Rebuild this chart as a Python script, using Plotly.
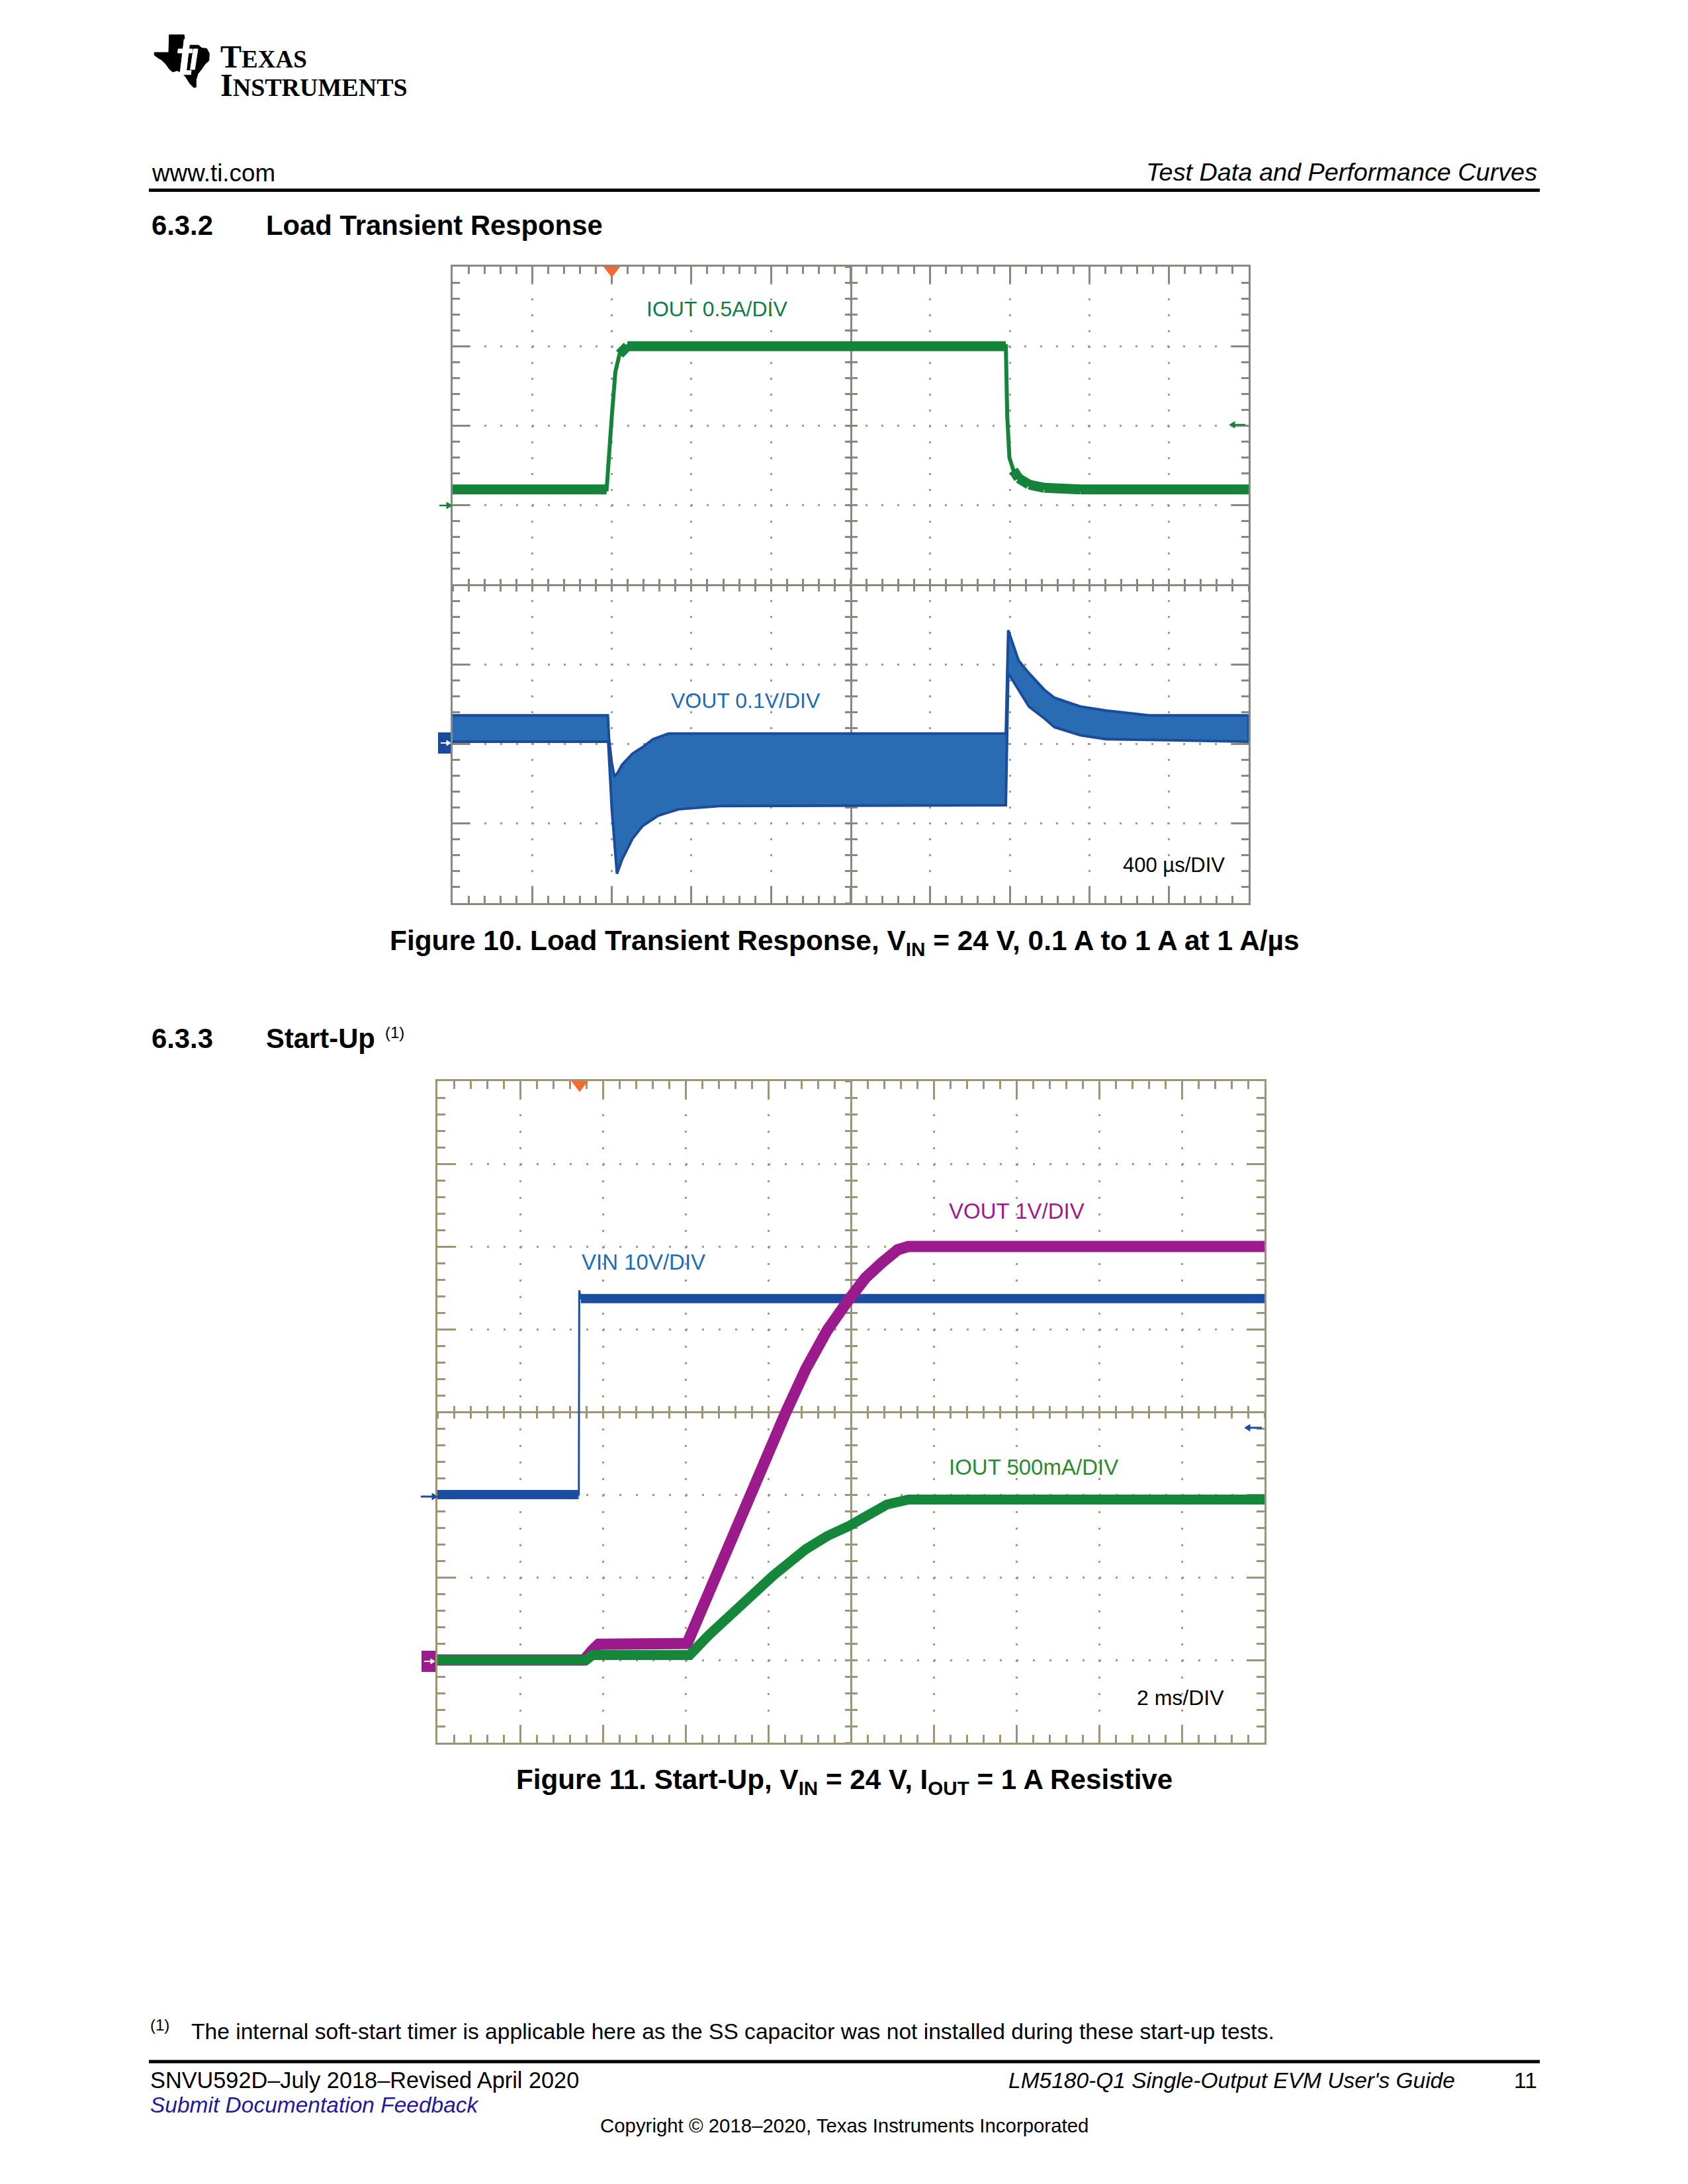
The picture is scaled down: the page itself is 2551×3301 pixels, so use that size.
import plotly.graph_objects as go

W, H = 2551, 3301

# ---------------- Figure 10: load transient (time in microseconds) ----------------
lt_iout_t_us = [0, 774, 800, 818, 839, 878, 2780, 2787, 2798, 2818, 2844, 2896, 2974, 3155, 4000]
lt_iout_a = [0.10, 0.10, 0.56, 0.84, 0.95, 1.00, 1.00, 0.56, 0.30, 0.22, 0.17, 0.13, 0.11, 0.10, 0.10]

lt_vout_up_t_us = [0, 780, 786, 800, 813, 830, 852, 880, 904, 955, 1007, 1085, 2780, 2792, 2818, 2844,
                   2896, 2974, 3025, 3155, 3284, 3500, 4000]
lt_vout_up_mv = [30, 30, 0, -30, -47, -42, -32, -24, -18, -10, 0, 7, 7, 137, 119, 99,
                 83, 62, 52, 41, 36, 30, 30]
lt_vout_lo_t_us = [0, 782, 800, 826, 852, 904, 955, 1033, 1136, 1343, 2780, 2792, 2844, 2896,
                   2974, 3025, 3155, 3284, 4000]
lt_vout_lo_mv = [-3, -3, -88, -169, -151, -125, -109, -96, -88, -84, -83, 83, 62, 41,
                 26, 15, 5, 0, -3]
lt_trigger_us = [800]

# ---------------- Figure 11: start-up (time in milliseconds) ----------------
su_vin_t_ms = [0.0, 3.40, 3.42, 3.43, 3.47, 20.0]
su_vin_v = [0.3, 0.3, 0.3, 25.0, 24.0, 24.0]
su_vout_t_ms = [0.0, 3.55, 3.75, 3.90, 6.04, 6.30, 6.82, 7.34, 7.86, 8.43, 8.91, 9.43, 9.95,
                10.35, 10.74, 11.13, 11.39, 20.0]
su_vout_v = [0.0, 0.0, 0.12, 0.19, 0.20, 0.51, 1.13, 1.75, 2.38, 3.00, 3.52, 3.99, 4.36,
             4.62, 4.80, 4.96, 5.00, 5.00]
su_iout_t_ms = [0.0, 3.60, 3.75, 6.10, 6.56, 7.34, 8.12, 8.91, 9.43, 9.95, 10.35, 10.87, 11.39, 20.0]
su_iout_a = [0.0, 0.0, 0.03, 0.03, 0.15, 0.33, 0.51, 0.67, 0.75, 0.81, 0.86, 0.94, 0.97, 0.97]
su_trigger_ms = [3.44]

# ---------------- scope settings (units per division, offsets in divisions) ----------------
LT_T_DIV = 400
LT_IOUT_DIV, LT_IOUT_OFF = 0.5, 1.0
LT_VOUT_DIV, LT_VOUT_OFF = 100, -1.94
SU_T_DIV = 2
SU_VIN_DIV, SU_VIN_OFF = 10, -1.03
SU_VOUT_DIV, SU_VOUT_OFF = 1, -3.0
SU_IOUT_DIV, SU_IOUT_OFF = 0.5, -3.0

# ---------------- page geometry (pixels) ----------------
TOP_BOX = (684, 403, 1887, 1365)
BOT_BOX = (661, 1634, 1911, 2634)

TOP_LINE, TOP_DOT = '#88887e', '#9c9c96'
BOT_LINE, BOT_DOT = '#9d9473', '#a29a78'
FONT = 'Liberation Sans'


def X(px):
    return px / W


def Y(py):
    return 1 - py / H


def ch_range(per_div, off):
    return [(-4 - off) * per_div, (4 - off) * per_div]


def flat_only(t, v, thr):
    xs, ys = [], []
    for i in range(len(t) - 1):
        dt = t[i + 1] - t[i]
        if dt > 0 and abs((v[i + 1] - v[i]) / dt) <= thr:
            xs += [t[i], t[i + 1], None]
            ys += [v[i], v[i + 1], None]
    return xs, ys


def tick_kw(rng, dtick, color, majlen, minlen):
    return dict(range=rng, tick0=rng[0], dtick=dtick, ticks='inside', ticklen=majlen,
                tickwidth=3, tickcolor=color,
                minor=dict(tick0=rng[0], dtick=dtick / 5, ticks='inside', ticklen=minlen,
                           tickwidth=3, tickcolor=color, showgrid=False),
                zeroline=False, showticklabels=False, fixedrange=True, layer='below traces')


def grid_axis(domain, rng, dtick, color, dot, dash, majlen, minlen, anchor):
    d = tick_kw(rng, dtick, color, majlen, minlen)
    d.update(domain=domain, anchor=anchor, showline=True, linewidth=3, linecolor=color,
             mirror=True, showgrid=True, gridcolor=dot, gridwidth=3, griddash=dash)
    return d


def side_axis(overlay, anchor, side, rng, dtick, color, majlen, minlen):
    d = tick_kw(rng, dtick, color, majlen, minlen)
    d.update(overlaying=overlay, anchor=anchor, side=side, showline=False, showgrid=False)
    return d


def center_axis(overlay, rng, dtick, position, ticks, color, side):
    return dict(overlaying=overlay, anchor='free', position=position, range=rng, tick0=rng[0],
                dtick=dtick, ticks=ticks, ticklen=8, tickwidth=3, tickcolor=color,
                showline=True, linewidth=3, linecolor=color, showgrid=False, zeroline=False,
                showticklabels=False, fixedrange=True, side=side, layer='below traces')


def chan_axis(overlay, anchor, rng):
    return dict(overlaying=overlay, anchor=anchor, range=rng, visible=False, fixedrange=True)


fig = go.Figure()

# ----- axis placeholders so every decoration axis belongs to a subplot -----
for xa, ya in [('x2', 'y'), ('x3', 'y'), ('x4', 'y'), ('x', 'y2'), ('x', 'y3'), ('x', 'y4'),
               ('x6', 'y7'), ('x7', 'y7'), ('x8', 'y7'), ('x5', 'y8'), ('x5', 'y9'), ('x5', 'y10')]:
    fig.add_trace(go.Scatter(x=[], y=[], xaxis=xa, yaxis=ya, showlegend=False, hoverinfo='skip'))

# ----- Figure 10 traces -----
band_t = lt_vout_up_t_us + lt_vout_lo_t_us[::-1]
band_v = lt_vout_up_mv + lt_vout_lo_mv[::-1]
fig.add_trace(go.Scatter(x=band_t, y=band_v, xaxis='x', yaxis='y6', mode='lines', fill='toself',
                         fillcolor='#2a6cb4', line=dict(color='#1b4c9c', width=4),
                         showlegend=False, hoverinfo='skip'))
fig.add_trace(go.Scatter(x=lt_iout_t_us, y=lt_iout_a, xaxis='x', yaxis='y5', mode='lines',
                         line=dict(color='#15843b', width=6), showlegend=False, hoverinfo='skip'))
fx, fy = flat_only(lt_iout_t_us, lt_iout_a, 0.002)
fig.add_trace(go.Scatter(x=fx, y=fy, xaxis='x', yaxis='y5', mode='lines',
                         line=dict(color='#15843b', width=15), showlegend=False, hoverinfo='skip'))
fig.add_trace(go.Scatter(x=lt_trigger_us, y=[3.955] * len(lt_trigger_us), xaxis='x', yaxis='y',
                         mode='markers', marker=dict(symbol='triangle-down', size=22, color='#f26c2f'),
                         cliponaxis=False, showlegend=False, hoverinfo='skip'))

# ----- Figure 11 traces -----
fig.add_trace(go.Scatter(x=su_vin_t_ms, y=su_vin_v, xaxis='x5', yaxis='y11', mode='lines',
                         line=dict(color='#1b4ea2', width=3), showlegend=False, hoverinfo='skip'))
vx, vy = flat_only(su_vin_t_ms, su_vin_v, 1.0)
fig.add_trace(go.Scatter(x=vx, y=vy, xaxis='x5', yaxis='y11', mode='lines',
                         line=dict(color='#1b4ea2', width=14), showlegend=False, hoverinfo='skip'))
fig.add_trace(go.Scatter(x=su_iout_t_ms, y=su_iout_a, xaxis='x5', yaxis='y13', mode='lines',
                         line=dict(color='#14873a', width=15), showlegend=False, hoverinfo='skip'))
fig.add_trace(go.Scatter(x=su_vout_t_ms, y=su_vout_v, xaxis='x5', yaxis='y12', mode='lines',
                         line=dict(color='#9b1a8c', width=17), showlegend=False, hoverinfo='skip'))
fig.add_trace(go.Scatter(x=su_trigger_ms, y=[3.956] * len(su_trigger_ms), xaxis='x5', yaxis='y7',
                         mode='markers', marker=dict(symbol='triangle-down', size=22, color='#f26c2f'),
                         cliponaxis=False, showlegend=False, hoverinfo='skip'))

# ----- axes -----
tdx = [X(TOP_BOX[0]), X(TOP_BOX[2])]
tdy = [Y(TOP_BOX[3]), Y(TOP_BOX[1])]
bdx = [X(BOT_BOX[0]), X(BOT_BOX[2])]
bdy = [Y(BOT_BOX[3]), Y(BOT_BOX[1])]
lt_xr = [0, 10 * LT_T_DIV]
su_xr = [0, 10 * SU_T_DIV]
yr = [-4, 4]

layout_axes = dict(
    # top chart
    xaxis=grid_axis(tdx, lt_xr, LT_T_DIV, TOP_LINE, TOP_DOT, '3px,21px', 25, 11, 'y'),
    xaxis2=side_axis('x', 'y', 'top', lt_xr, LT_T_DIV, TOP_LINE, 25, 11),
    xaxis3=center_axis('x', lt_xr, LT_T_DIV / 5, sum(tdy) / 2, 'outside', TOP_LINE, 'bottom'),
    xaxis4=center_axis('x', lt_xr, LT_T_DIV / 5, sum(tdy) / 2, 'inside', TOP_LINE, 'bottom'),
    yaxis=grid_axis(tdy, yr, 1, TOP_LINE, TOP_DOT, '3px,21px', 25, 11, 'x'),
    yaxis2=side_axis('y', 'x', 'right', yr, 1, TOP_LINE, 25, 11),
    yaxis3=center_axis('y', yr, 0.2, sum(tdx) / 2, 'outside', TOP_LINE, 'left'),
    yaxis4=center_axis('y', yr, 0.2, sum(tdx) / 2, 'inside', TOP_LINE, 'left'),
    yaxis5=chan_axis('y', 'x', ch_range(LT_IOUT_DIV, LT_IOUT_OFF)),
    yaxis6=chan_axis('y', 'x', ch_range(LT_VOUT_DIV, LT_VOUT_OFF)),
    # bottom chart
    xaxis5=grid_axis(bdx, su_xr, SU_T_DIV, BOT_LINE, BOT_DOT, '3px,22px', 27, 12, 'y7'),
    xaxis6=side_axis('x5', 'y7', 'top', su_xr, SU_T_DIV, BOT_LINE, 27, 12),
    xaxis7=center_axis('x5', su_xr, SU_T_DIV / 5, sum(bdy) / 2, 'outside', BOT_LINE, 'bottom'),
    xaxis8=center_axis('x5', su_xr, SU_T_DIV / 5, sum(bdy) / 2, 'inside', BOT_LINE, 'bottom'),
    yaxis7=grid_axis(bdy, yr, 1, BOT_LINE, BOT_DOT, '3px,22px', 27, 12, 'x5'),
    yaxis8=side_axis('y7', 'x5', 'right', yr, 1, BOT_LINE, 27, 12),
    yaxis9=center_axis('y7', yr, 0.2, sum(bdx) / 2, 'outside', BOT_LINE, 'left'),
    yaxis10=center_axis('y7', yr, 0.2, sum(bdx) / 2, 'inside', BOT_LINE, 'left'),
    yaxis11=chan_axis('y7', 'x5', ch_range(SU_VIN_DIV, SU_VIN_OFF)),
    yaxis12=chan_axis('y7', 'x5', ch_range(SU_VOUT_DIV, SU_VOUT_OFF)),
    yaxis13=chan_axis('y7', 'x5', ch_range(SU_IOUT_DIV, SU_IOUT_OFF)),
)

# ----- text -----
ann = []


def txt(s, x, y, size, color='black', xanchor='left', weight='normal', style='normal', family=FONT):
    ann.append(dict(text=s, x=X(x), y=Y(y), xref='paper', yref='paper', xanchor=xanchor,
                    yanchor='middle', align='left', showarrow=False,
                    font=dict(family=family, size=size, color=color, weight=weight, style=style)))


# header / logo
txt('<span style="font-size:48px">T</span><span style="font-size:37px">EXAS</span><br>'
    '<span style="font-size:48px">I</span><span style="font-size:38px">NSTRUMENTS</span>',
    331, 107, 33, weight='bold', family='Liberation Serif')
txt('www.ti.com', 227, 261, 36.8)
txt('Test Data and Performance Curves', 2325, 260, 37.8, xanchor='right', style='italic')
txt('6.3.2', 227, 340, 41.8, weight='bold')
txt('Load Transient Response', 400, 340, 41.8, weight='bold')

# figure 10 labels
txt('IOUT 0.5A/DIV', 975, 467, 32, color='#0e7d45')
txt('VOUT 0.1V/DIV', 1012, 1059, 32, color='#1c6cb5')
txt('400 µs/DIV', 1695, 1307, 31)
txt('Figure 10. Load Transient Response, V<sub>IN</sub> = 24 V, 0.1 A to 1 A at 1 A/µs',
    1276, 1424, 42.4, xanchor='center', weight='bold')

# start-up heading
txt('6.3.3', 227, 1569, 41.8, weight='bold')
txt('Start-Up', 400, 1569, 41.8, weight='bold')
txt('(1)', 580, 1560, 24)

# figure 11 labels
txt('VOUT 1V/DIV', 1432, 1831, 33, color='#9a1c8c')
txt('VIN 10V/DIV', 877, 1907, 33, color='#1f6cb5')
txt('IOUT 500mA/DIV', 1432, 2217, 33, color='#2d8a2d')
txt('2 ms/DIV', 1716, 2566, 32)
txt('Figure 11. Start-Up, V<sub>IN</sub> = 24 V, I<sub>OUT</sub> = 1 A Resistive',
    1276, 2692, 42.2, xanchor='center', weight='bold')

# footnote & footer
txt('(1)', 225, 3060, 24)
txt('The internal soft-start timer is applicable here as the SS capacitor was not installed during these start-up tests.',
    287, 3070, 33.6)
txt('SNVU592D–July 2018–Revised April 2020', 225, 3144, 34.3)
txt("LM5180-Q1 Single-Output EVM User's Guide", 2201, 3144, 33.5, xanchor='right', style='italic')
txt('11', 2325, 3144, 33.5, xanchor='right')
txt('Submit Documentation Feedback', 225, 3181, 33.5, color='#23199a', style='italic')
txt('Copyright © 2018–2020, Texas Instruments Incorporated', 1276, 3212, 29.4, xanchor='center')

# ----- shapes -----
shapes = [
    dict(type='line', xref='paper', yref='paper', x0=X(225), x1=X(2327), y0=Y(287.5), y1=Y(287.5),
         line=dict(color='black', width=5)),
    dict(type='line', xref='paper', yref='paper', x0=X(225), x1=X(2327), y0=Y(3116), y1=Y(3116),
         line=dict(color='black', width=5)),
    dict(type='rect', xref='paper', yref='paper', x0=X(662), x1=X(684), y0=Y(1139), y1=Y(1107),
         line=dict(width=0), fillcolor='#1a4b9b', layer='below'),
    dict(type='rect', xref='paper', yref='paper', x0=X(637), x1=X(661), y0=Y(2527), y1=Y(2495),
         line=dict(width=0), fillcolor='#9b1a8c', layer='below'),
]


def arrow_shape(head_x, tail_x, y, color, lw=3, hl=8, hw=5):
    d = 1 if head_x > tail_x else -1
    base = head_x - d * hl
    shapes.append(dict(type='line', xref='paper', yref='paper', x0=X(tail_x), x1=X(base),
                       y0=Y(y), y1=Y(y), line=dict(color=color, width=lw)))
    p = f'M {X(head_x):.5f},{Y(y):.5f} L {X(base):.5f},{Y(y - hw):.5f} L {X(base):.5f},{Y(y + hw):.5f} Z'
    shapes.append(dict(type='path', xref='paper', yref='paper', path=p, fillcolor=color,
                       line=dict(color=color, width=1)))


def poly_shape(pts, color):
    p = 'M ' + ' L '.join(f'{X(a):.5f},{Y(b):.5f}' for a, b in pts) + ' Z'
    shapes.append(dict(type='path', xref='paper', yref='paper', path=p, fillcolor=color,
                       line=dict(color=color, width=1)))


# channel reference markers
arrow_shape(683, 664, 764, '#15843b', lw=2.5)
arrow_shape(1858, 1882, 642, '#15843b', lw=2.5)
arrow_shape(661, 636, 2262, '#1b4ea2')
arrow_shape(1881, 1907, 2158, '#1b4ea2')
arrow_shape(681, 666, 1123, 'white', lw=2, hl=6, hw=4)
arrow_shape(657, 641, 2511, 'white', lw=2, hl=6, hw=4)

# TI logo (state outline with the white "ti" cut-out)
poly_shape([(255.7, 52.7), (278.3, 52.7), (280, 68.3), (300, 68.3), (305, 72.7), (312.3, 73.3),
            (316.3, 80.7), (315.7, 91.7), (310, 96.7), (305, 104), (299, 111.7), (296.3, 120.7),
            (296.3, 131.7), (292.7, 132.3), (286.7, 126), (281, 116.7), (275, 110), (267.7, 106.7),
            (261, 108.7), (256.7, 105.3), (251, 97.3), (244.3, 90.7), (237.7, 86.7), (233.3, 83.3),
            (233.3, 79.3), (255, 79.3)], 'black')
poly_shape([(278.3, 59.3), (287.3, 59.3), (281, 111.7), (272, 111.7)], 'white')
poly_shape([(269.3, 74), (290.7, 74), (290, 80), (268.7, 80)], 'white')
poly_shape([(292.3, 74), (299, 74), (294.3, 105), (287.6, 105)], 'white')
poly_shape([(292.7, 59.3), (299.7, 59.3), (298.7, 65.7), (291.7, 65.7)], 'white')
poly_shape([(272.7, 106.7), (289, 106.7), (288.3, 112.7), (272, 112.7)], 'white')

fig.update_layout(
    width=W, height=H, margin=dict(l=0, r=0, t=0, b=0, pad=0), autosize=False,
    paper_bgcolor='white', plot_bgcolor='white', showlegend=False,
    font=dict(family=FONT, color='black'),
    annotations=ann, shapes=shapes, **layout_axes,
)

fig.write_html('out.html', config={'displayModeBar': False, 'staticPlot': True},
               post_script="document.body.style.margin='0';document.body.style.overflow='hidden';")
